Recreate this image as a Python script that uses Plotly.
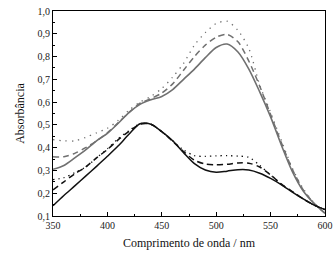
import plotly.graph_objects as go

wavelength = [350, 360, 370, 380, 390, 400, 410, 420, 430, 440, 450, 460, 470,
              480, 490, 500, 510, 520, 530, 540, 550, 560, 570, 580, 590, 600]

gray_solid = [0.305, 0.322, 0.355, 0.39, 0.43, 0.463, 0.507, 0.555, 0.59, 0.61, 0.625, 0.655, 0.70,
              0.745, 0.795, 0.84, 0.855, 0.82, 0.745, 0.645, 0.535, 0.41, 0.295, 0.21, 0.155, 0.112]
gray_dash = [0.36, 0.36, 0.375, 0.40, 0.43, 0.465, 0.51, 0.555, 0.595, 0.615, 0.64, 0.68, 0.74,
             0.80, 0.85, 0.885, 0.897, 0.865, 0.78, 0.67, 0.545, 0.42, 0.305, 0.215, 0.155, 0.112]
gray_dot = [0.435, 0.43, 0.43, 0.445, 0.465, 0.485, 0.52, 0.565, 0.60, 0.625, 0.66, 0.71, 0.77,
            0.85, 0.905, 0.945, 0.955, 0.915, 0.835, 0.675, 0.555, 0.43, 0.31, 0.22, 0.158, 0.112]
black_solid = [0.145, 0.19, 0.232, 0.275, 0.318, 0.362, 0.408, 0.46, 0.505, 0.503, 0.47, 0.43, 0.378,
               0.33, 0.302, 0.292, 0.297, 0.303, 0.302, 0.288, 0.265, 0.237, 0.205, 0.175, 0.148, 0.128]
black_dash = [0.215, 0.25, 0.285, 0.315, 0.355, 0.392, 0.435, 0.472, 0.503, 0.503, 0.47, 0.428, 0.383,
              0.345, 0.328, 0.325, 0.327, 0.333, 0.332, 0.315, 0.28, 0.24, 0.207, 0.175, 0.148, 0.128]
black_dot = [0.26, 0.268, 0.29, 0.315, 0.355, 0.395, 0.44, 0.475, 0.505, 0.503, 0.47, 0.43, 0.39,
             0.365, 0.362, 0.364, 0.365, 0.363, 0.358, 0.322, 0.28, 0.24, 0.207, 0.175, 0.148, 0.13]

GRAY = "#707070"
BLACK = "#111111"
SERIF = "Liberation Serif, Times New Roman, DejaVu Serif, serif"

series = [
    (gray_dot, GRAY, "1.3px,5px", 1.3),
    (gray_dash, GRAY, "6px,4px", 1.5),
    (gray_solid, GRAY, "solid", 1.6),
    (black_dot, BLACK, "1.3px,4px", 1.3),
    (black_dash, BLACK, "6px,4px", 1.5),
    (black_solid, BLACK, "solid", 1.5),
]

fig = go.Figure()
for ys, col, dash, w in series:
    fig.add_trace(go.Scatter(x=wavelength, y=ys, mode="lines",
                             line=dict(color=col, width=w, dash=dash, shape="spline", smoothing=0.8),
                             showlegend=False, hoverinfo="skip"))

axis_font = dict(family=SERIF, size=10, color="#222")
fig.update_layout(
    width=336, height=259,
    margin=dict(l=53, r=11, t=11, b=43),
    paper_bgcolor="white", plot_bgcolor="white",
    separators=",.",
    font=dict(family=SERIF),
    xaxis=dict(range=[350, 600], tick0=350, dtick=50, showline=True, mirror=True, automargin=False,
               linecolor="black", linewidth=1, ticks="inside", ticklen=4, tickcolor="black",
               minor=dict(ticks="inside", ticklen=2, dtick=25, tickcolor="black"),
               showgrid=False, zeroline=False, tickfont=axis_font,
               title=dict(text="Comprimento de onda / nm",
                          font=dict(family=SERIF, size=12, color="#111"), standoff=8)),
    yaxis=dict(range=[0.1, 1.0], tick0=0.1, dtick=0.1, tickformat=".1f", showline=True, mirror=True,
               automargin=False,
               linecolor="black", linewidth=1, ticks="inside", ticklen=4, tickcolor="black",
               minor=dict(ticks="inside", ticklen=2, dtick=0.05, tickcolor="black"),
               showgrid=False, zeroline=False, tickfont=axis_font,
               title=dict(text="Absorbância",
                          font=dict(family=SERIF, size=12, color="#111"), standoff=10)),
)

fig.write_html("out.html", config={"displayModeBar": False},
               post_script="document.body.style.margin='0px';")
